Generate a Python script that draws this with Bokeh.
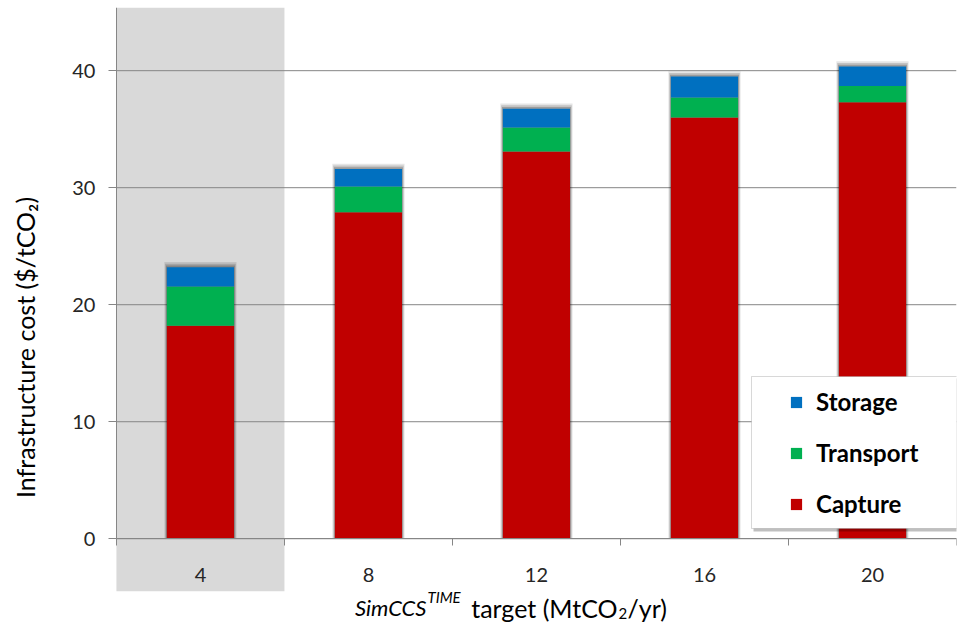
import math
from bokeh.plotting import figure
from bokeh.models import (Range1d, FixedTicker, BoxAnnotation, Legend, LegendItem, Label)
from bokeh.embed import file_html
from bokeh.resources import INLINE

# ---- data ----
targets = ["4", "8", "12", "16", "20"]
capture = [18.2, 27.9, 33.1, 36.0, 37.3]
transport = [3.35, 2.2, 2.05, 1.7, 1.4]
storage = [1.65, 1.5, 1.6, 1.8, 1.65]
y_ticks = [0, 10, 20, 30, 40]

colors = {"Capture": "#C00000", "Transport": "#00B050", "Storage": "#0070C0"}
FONT = "Lato"
AX = "#868686"

n = len(targets)
xs = [i + 0.5 for i in range(n)]
totals = [c + t + s for c, t, s in zip(capture, transport, storage)]
YTOP = 45.4

p = figure(width=961, height=635, output_backend="svg", toolbar_location=None,
           x_range=Range1d(-0.69, n), y_range=Range1d(-8.27, YTOP),
           min_border_left=0, min_border_right=5, min_border_top=7,
           min_border_bottom=0)
p.outline_line_color = None
p.background_fill_color = "white"
p.border_fill_color = "white"

# highlighted first category
hl = BoxAnnotation(left=xs[0] - 0.5, right=xs[0] + 0.5, bottom=-4.48,
                   fill_color="#D9D9D9", fill_alpha=1, line_color=None, level="image")
p.add_layout(hl)

# horizontal gridlines limited to the category span
p.xgrid.visible = False
p.ygrid.visible = False
p.segment(x0=0, x1=n, y0=y_ticks, y1=y_ticks, line_color=AX, line_width=1)

# soft bar shadows
for dw, dt, a in [(0.03, 0.45, 0.10), (0.02, 0.3, 0.15), (0.01, 0.15, 0.2)]:
    p.vbar(x=xs, top=[t + dt for t in totals], bottom=0, width=0.4 + dw,
           fill_color="black", fill_alpha=a, line_color=None)

src = dict(x=xs, Capture=capture, Transport=transport, Storage=storage)
rs = p.vbar_stack(["Capture", "Transport", "Storage"], x="x", width=0.4, source=src,
                  color=[colors["Capture"], colors["Transport"], colors["Storage"]],
                  line_color=None)

# y axis
ya = p.yaxis[0]
ya.fixed_location = 0
ya.ticker = FixedTicker(ticks=y_ticks)
ya.bounds = (0, YTOP)
ya.axis_line_color = AX
ya.major_tick_line_color = AX
ya.major_tick_out = 8
ya.major_tick_in = 0
ya.minor_tick_line_color = None
ya.major_label_text_font = FONT
ya.major_label_text_font_size = "20px"
ya.major_label_text_color = "#262626"
ya.major_label_standoff = 13

# x axis
xa = p.xaxis[0]
xa.fixed_location = 0
xa.bounds = (0, n)
xa.ticker = FixedTicker(ticks=xs, minor_ticks=[i for i in range(n + 1)])
xa.major_label_overrides = {x: t for x, t in zip(xs, targets)}
xa.axis_line_color = AX
xa.major_tick_line_color = None
xa.major_tick_in = 0
xa.major_tick_out = 0
xa.minor_tick_line_color = AX
xa.minor_tick_in = 0
xa.minor_tick_out = 7
xa.major_label_text_font = FONT
xa.major_label_text_font_size = "20px"
xa.major_label_text_color = "#262626"
xa.major_label_standoff = 22

# axis titles
base = dict(x_units="screen", y_units="screen", text_font=FONT, text_color="black",
            text_baseline="alphabetic")
p.add_layout(Label(x=24, y=288, text="Infrastructure cost ($/tCO\u2082)",
                   angle=math.pi / 2, text_align="center", x_units="screen",
                   y_units="screen", text_font=FONT, text_color="black",
                   text_font_size="25px", text_baseline="middle"))

p.add_layout(Label(x=426, y=28, text="SimCCS", text_align="right",
                   text_font_size="22px", text_font_style="italic", **base))
p.add_layout(Label(x=427, y=39, text="TIME", text_align="left",
                   text_font_size="15px", text_font_style="italic", **base))
p.add_layout(Label(x=617, y=28, text="target (MtCO", text_align="right",
                   text_font_size="25px", **base))
p.add_layout(Label(x=618, y=22, text="2", text_align="left",
                   text_font_size="15px", **base))
p.add_layout(Label(x=627, y=28, text="/yr)", text_align="left",
                   text_font_size="25px", **base))

# legend box with shadow
p.add_layout(BoxAnnotation(left=753, right=961, bottom=104, top=257,
                           left_units="screen", right_units="screen",
                           bottom_units="screen", top_units="screen",
                           fill_color="black", fill_alpha=0.25, line_color=None))
p.add_layout(BoxAnnotation(left=751, right=958, bottom=107, top=259,
                           left_units="screen", right_units="screen",
                           bottom_units="screen", top_units="screen",
                           fill_color="white", fill_alpha=1, line_color="#7f7f7f",
                           line_width=1))

legend = Legend(items=[LegendItem(label="Storage", renderers=[rs[2]]),
                       LegendItem(label="Transport", renderers=[rs[1]]),
                       LegendItem(label="Capture", renderers=[rs[0]])],
                location=(789, 117), padding=0, margin=0, spacing=22,
                glyph_width=14, glyph_height=14, label_height=28,
                label_standoff=13, label_text_font=FONT,
                label_text_font_style="bold", label_text_font_size="24px",
                label_text_color="black", background_fill_alpha=0,
                border_line_color=None)
p.add_layout(legend)

open("out.html", "w").write(file_html(p, INLINE))
